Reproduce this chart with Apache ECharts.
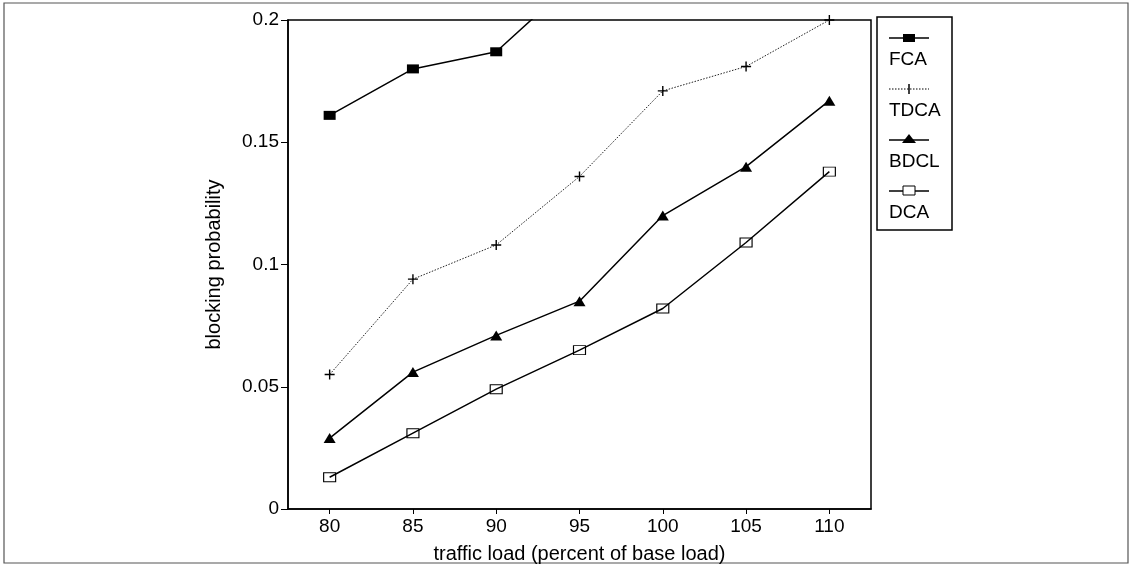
<!DOCTYPE html>
<html>
<head>
<meta charset="utf-8">
<script src="https://cdn.jsdelivr.net/npm/echarts@6/dist/echarts.min.js"></script>
<style>
html, body { margin: 0; padding: 0; background: #fff; }
#chart { width: 1130px; height: 573px; }
</style>
</head>
<body>
<div id="chart"></div>
<script>
// traffic load (percent of base load)
let loads = [80, 85, 90, 95, 100, 105, 110]
let yTicks = [0, 0.05, 0.1, 0.15, 0.2]
// blocking probability per scheme
let fca = [0.161, 0.180, 0.187, 0.218]
let tdca = [0.055, 0.094, 0.108, 0.136, 0.171, 0.181, 0.200]
let bdcl = [0.029, 0.056, 0.071, 0.085, 0.120, 0.140, 0.167]
let dca = [0.013, 0.031, 0.049, 0.065, 0.082, 0.109, 0.138]
let names = ['FCA', 'TDCA', 'BDCL', 'DCA']

let plusPath = 'path://M4.3,0h1.4v4.3h4.3v1.4h-4.3v4.3h-1.4v-4.3h-4.3v-1.4h4.3z'
let font = 'Liberation Sans, Arial, sans-serif'

pairs = (arr) => arr.map((v, i) => [loads[i], v])

let chart = echarts.init(document.getElementById('chart'))

// legend drawn by hand: marker on top, name underneath
let legendItems = []
let lx = 889, ly = 38, step = 51
names.forEach((n, i) => {
	let y = ly + i * step
	legendItems.push({
		type: 'line',
		shape: { x1: lx, y1: y, x2: lx + 40, y2: y },
		style: { stroke: '#000', lineWidth: i == 1 ? 1 : 1.5, lineDash: i == 1 ? [1.5, 1.5] : null }
	})
	if (i == 0) {
		legendItems.push({ type: 'rect', shape: { x: lx + 14, y: y - 4, width: 12, height: 8 }, style: { fill: '#000' } })
	} else if (i == 1) {
		legendItems.push({ type: 'line', shape: { x1: lx + 20, y1: y - 5, x2: lx + 20, y2: y + 5 }, style: { stroke: '#000', lineWidth: 1.5 } })
	} else if (i == 2) {
		legendItems.push({ type: 'polygon', shape: { points: [[lx + 20, y - 6], [lx + 13, y + 3], [lx + 27, y + 3]] }, style: { fill: '#000' } })
	} else {
		legendItems.push({ type: 'rect', shape: { x: lx + 14, y: y - 5, width: 12, height: 9 }, style: { fill: '#fff', stroke: '#000', lineWidth: 1 } })
	}
	legendItems.push({
		type: 'text', x: lx, y: y + 22,
		style: { text: n, fill: '#000', font: '19px ' + font, verticalAlign: 'middle' }
	})
})

let option = {
	animation: false,
	backgroundColor: '#fff',
	grid: {
		left: 288,
		right: 259,
		top: 20,
		bottom: 64,
		show: true,
		borderColor: '#000',
		borderWidth: 1.5
	},
	xAxis: {
		type: 'value',
		min: 77.5,
		max: 112.5,
		name: 'traffic load (percent of base load)',
		nameLocation: 'middle',
		nameGap: 35,
		nameTextStyle: { color: '#000', fontSize: 20, fontFamily: font },
		axisLine: { onZero: false, lineStyle: { color: '#000', width: 1.5 } },
		axisTick: { show: true, length: 5, lineStyle: { color: '#000' }, customValues: loads },
		axisLabel: { color: '#000', fontSize: 19, fontFamily: font, margin: 8, customValues: loads },
		splitLine: { show: false }
	},
	yAxis: {
		type: 'value',
		min: 0,
		max: 0.2,
		interval: 0.05,
		name: 'blocking probability',
		nameLocation: 'middle',
		nameGap: 64,
		nameTextStyle: { color: '#000', fontSize: 20, fontFamily: font },
		axisLine: { show: true, lineStyle: { color: '#000', width: 1.5 } },
		axisTick: { show: true, length: 7, lineStyle: { color: '#000' }, customValues: yTicks },
		axisLabel: { color: '#000', fontSize: 19, fontFamily: font, margin: 9, customValues: yTicks },
		splitLine: { show: false }
	},
	series: [
		{
			name: 'FCA',
			type: 'line',
			clip: true,
			symbol: 'rect',
			symbolSize: [12, 9],
			itemStyle: { color: '#000' },
			lineStyle: { color: '#000', width: 1.5 },
			data: pairs(fca)
		},
		{
			name: 'TDCA',
			type: 'line',
			clip: true,
			symbol: plusPath,
			symbolSize: 10,
			itemStyle: { color: '#000' },
			lineStyle: { color: '#222', width: 1, type: [1.5, 1.5] },
			data: pairs(tdca)
		},
		{
			name: 'BDCL',
			type: 'line',
			clip: true,
			symbol: 'triangle',
			symbolSize: [12, 10],
			itemStyle: { color: '#000' },
			lineStyle: { color: '#000', width: 1.5 },
			data: pairs(bdcl)
		},
		{
			name: 'DCA',
			type: 'line',
			clip: true,
			symbol: 'rect',
			symbolSize: [12, 9],
			itemStyle: { color: 'rgba(255,255,255,0)', borderColor: '#000', borderWidth: 1 },
			lineStyle: { color: '#000', width: 1.5 },
			data: pairs(dca)
		}
	],
	graphic: [
		{
			type: 'rect',
			shape: { x: 4, y: 3, width: 1124, height: 560 },
			style: { fill: 'none', stroke: '#555', lineWidth: 1.2 },
			silent: true
		},
		{
			type: 'rect',
			shape: { x: 877, y: 17, width: 75, height: 213 },
			style: { fill: '#fff', stroke: '#000', lineWidth: 1.5 },
			silent: true
		},
		{
			type: 'group',
			children: legendItems
		}
	]
}
chart.setOption(option)
</script>
</body>
</html>
